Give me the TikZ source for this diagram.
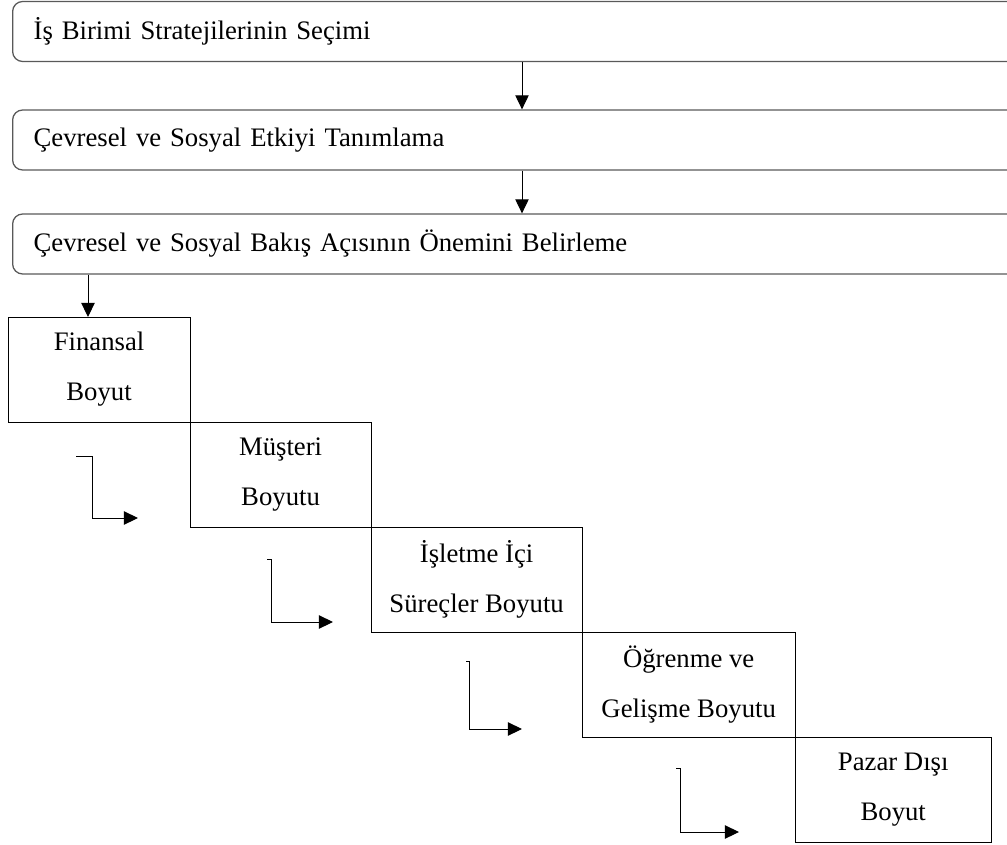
\documentclass[tikz,border=0pt]{standalone}
\usepackage{fontspec}
\setmainfont{Liberation Serif}
\usetikzlibrary{positioning,arrows.meta}

\tikzset{
	bar/.style={rectangle,rounded corners=0.25cm,draw=black!65,line width=0.9pt,anchor=west,
		minimum width=25.45cm,minimum height=1.5cm,inner xsep=0.525cm,text width=24.4cm,align=left,
		font=\fontsize{19}{23}\selectfont},
	boyut/.style={rectangle,draw,line width=0.6pt,outer sep=0pt,minimum height=2.625cm,align=center,
		font=\fontsize{19}{35.5}\selectfont},
}

\begin{document}
\begin{tikzpicture}[x=0.025cm,y=-0.025cm,>={Triangle[length=10pt,width=9.5pt]},line width=0.7pt]
		\useasboundingbox (0,0) rectangle (1007,844);
		\clip (0,0) rectangle (1007,844);

		\node[bar] (secim) at (12, 31.5) {İş Birimi Stratejilerinin Seçimi};
		\node[bar] (etki) at (12, 140) {Çevresel ve Sosyal Etkiyi Tanımlama};
		\node[bar] (onem) at (12, 244) {Çevresel ve Sosyal Bakış Açısının Önemini Belirleme};

		\node[boyut,anchor=north west,minimum width=4.55cm] (finansal) at (8, 317) {Finansal\\Boyut};
		\node[boyut,anchor=north west,minimum width=4.525cm] (musteri) at (finansal.south east) {Müşteri\\Boyutu};
		\node[boyut,anchor=north west,minimum width=5.275cm] (surec) at (musteri.south east) {İşletme İçi\\Süreçler Boyutu};
		\node[boyut,anchor=north west,minimum width=5.325cm] (ogrenme) at (surec.south east) {Öğrenme ve\\Gelişme Boyutu};
		\node[boyut,anchor=north west,minimum width=4.9cm] (pazar) at (ogrenme.south east) {Pazar Dışı\\Boyut};

		\coordinate (a1) at (522, 0);
		\coordinate (a2) at (88, 0);
		\draw[->] (secim.south -| a1) -- (etki.north -| a1);
		\draw[->] (etki.south -| a1) -- (onem.north -| a1);
		\draw[->] (onem.south -| a2) -- (finansal.north -| a2);

		% step arrows between the boxes
		\foreach \a/\b/\c/\d/\e in {76/92/456/518/138, 267/271/559/622/333, 466/469/661/729/522, 676/680/768/832/739}
			\draw[->] (\a, \c) -- (\b, \c) -- (\b, \d) -- (\e, \d);
	\end{tikzpicture}
\end{document}
